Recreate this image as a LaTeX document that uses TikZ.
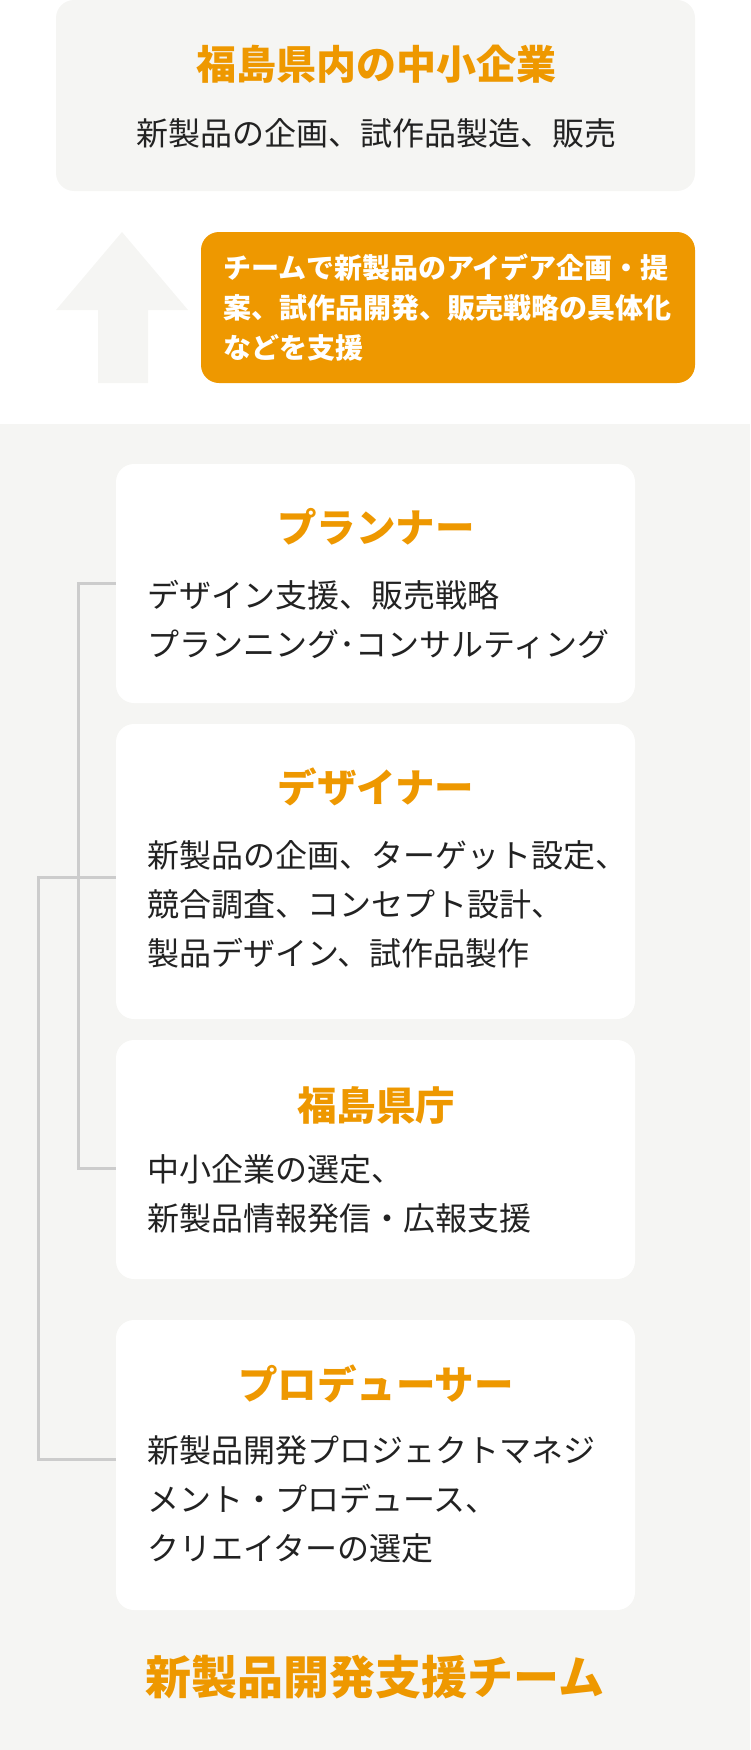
\documentclass[tikz,border=0pt]{standalone}
\usepackage{fontspec}
\setmainfont{Noto Sans CJK JP}
\usetikzlibrary{positioning}
\definecolor{fkorange}{RGB}{238,152,0}
\definecolor{fkgray}{RGB}{245,245,243}
\definecolor{fkline}{RGB}{204,204,204}
\definecolor{fktext}{RGB}{34,34,34}
\tikzset{every picture/.append style={x=1pt, y=-1pt}}
\tikzset{card/.style={fill=white, rounded corners=18pt, inner sep=0pt, minimum width=519pt}}
\tikzset{head/.style={text=fkorange, inner sep=0pt, font=\fontsize{39.5}{39.5}\selectfont\bfseries}}
\tikzset{body/.style={text=fktext, align=left, anchor=west, inner sep=0pt, font=\fontsize{32}{49}\selectfont}}
\tikzset{link/.style={draw=fkline, line width=3pt}}

\begin{document}
\begin{tikzpicture}
\useasboundingbox (0,0) rectangle (750,1750);
\fill[fkgray] (0,424) rectangle (750,1750);
% company and support
\node (firm) at (375.5,95.5)[card, fill=fkgray, minimum width=639pt, minimum height=191pt]{};
\node (firmt) at (376,64)[head, font=\fontsize{40}{40}\selectfont\bfseries]{福島県内の中小企業};
\node (firmb) at (376,133)[text=fktext, inner sep=0pt, font=\fontsize{32}{32}\selectfont]{新製品の企画、試作品製造、販売};
\fill[fkgray] (56,310) -- (122,232) -- (188,310) -- (148,310) -- (148,383) -- (98,383) -- (98,310) -- cycle;
\node (help) at (448,307.5)[card, fill=fkorange, minimum width=494pt, minimum height=151pt]{};
\node (helpt) at (223,307.5)[body, text=white, font=\fontsize{28}{39.6}\selectfont\bfseries]{チームで新製品のアイデア企画・提\\案、試作品開発、販売戦略の具体化\\などを支援};
% team
\node (planner) at (375.5,583.5)[card, minimum height=239pt]{};
\node (plannert) at (376,527)[head]{プランナー};
\node (plannerb) at (147,619.5)[body]{デザイン支援、販売戦略\\プランニング･コンサルティング};
\node (designer) at (375.5,871.5)[card, minimum height=295pt]{};
\node (designert) at (376,787)[head]{デザイナー};
\node (designerb) at (147,904)[body]{新製品の企画、ターゲット設定、\\競合調査、コンセプト設計、\\製品デザイン、試作品製作};
\node (pref) at (375.5,1159.5)[card, minimum height=239pt]{};
\node (preft) at (376,1105)[head]{福島県庁};
\node (prefb) at (147,1193.5)[body]{中小企業の選定、\\新製品情報発信・広報支援};
\node (producer) at (375.5,1465)[card, minimum height=290pt]{};
\node (producert) at (376,1384)[head]{プロデューサー};
\node (producerb) at (147,1499.5)[body]{新製品開発プロジェクトマネジ\\メント・プロデュース、\\クリエイターの選定};
\node (team) at (375,1677)[head, font=\fontsize{46}{46}\selectfont\bfseries]{新製品開発支援チーム};

\draw[link] (planner.west) -- ++(-37,0) |- ([yshift=-9pt]pref.west);
\draw[link] ([yshift=-6pt]designer.west) -- ++(-77,0) |- ([yshift=6pt]producer.west);
\end{tikzpicture}
\end{document}
